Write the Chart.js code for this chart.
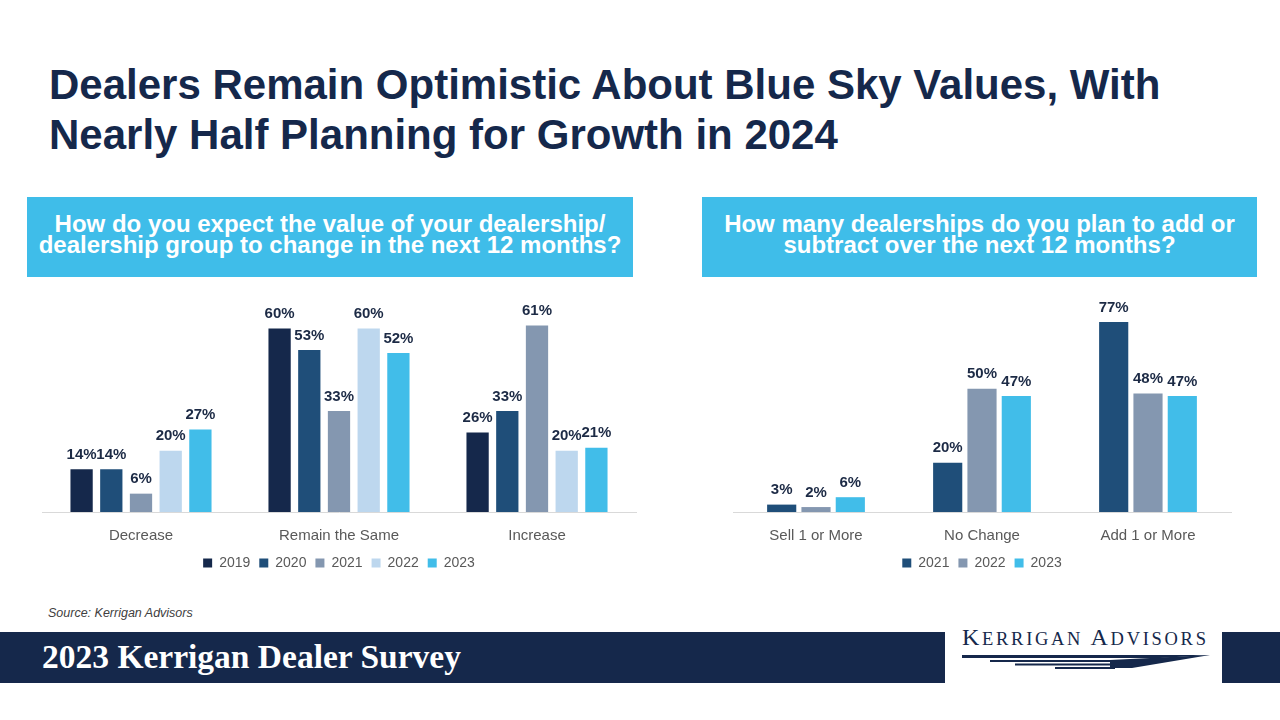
<!DOCTYPE html>
<html lang="en">
<head>
  <meta charset="UTF-8">
  <title>Dealers Remain Optimistic About Blue Sky Values</title>
  <style>
    * { box-sizing: border-box; margin: 0; padding: 0; }
    body {
      width: 1280px; height: 720px; position: relative; overflow: hidden;
      background: #fff; font-family: Arial, "Liberation Sans", sans-serif;
    }
    h1 {
      position: absolute; left: 49px; top: 60px;
      font-size: 42px; line-height: 50px; font-weight: bold; color: #15284b;
    }
    .qbox {
      position: absolute; top: 197px; height: 80px; background: #3fbde9;
      color: #fff; font-weight: bold; font-size: 24px; line-height: 21px;
      display: flex; align-items: center; justify-content: center; text-align: center;
      padding-bottom: 6px;
    }
    .chart { position: absolute; }
    .source {
      position: absolute; left: 48px; top: 606px; font-size: 12.5px;
      font-style: italic; color: #404040;
    }
    .band { position: absolute; top: 632px; height: 51px; background: #15284b; }
    .band-title {
      position: absolute; left: 42px; top: 638px; color: #fff;
      font-family: "Liberation Serif", "DejaVu Serif", serif; font-weight: bold; font-size: 33.5px;
    }
    .logo {
      position: absolute; left: 962px; top: 624px; color: #15284b;
      font-family: "Liberation Serif", serif; font-size: 24px; letter-spacing: 2.7px;
    }
    .logo small { font-size: 18.5px; }
  </style>
</head>
<body>
  <h1>Dealers Remain Optimistic About Blue Sky Values, With<br>Nearly Half Planning for Growth in 2024</h1>

  <div class="qbox" style="left:27px; width:606px;">How do you expect the value of your dealership/<br>dealership group to change in the next 12 months?</div>
  <div class="qbox" style="left:702px; width:555px;">How many dealerships do you plan to add or<br>subtract over the next 12 months?</div>

  <div class="chart" style="left:30px; top:280px; width:620px; height:300px;"><canvas id="valueChart"></canvas></div>
  <div class="chart" style="left:720px; top:272px; width:525px; height:308px;"><canvas id="storesChart"></canvas></div>

  <div class="source">Source: Kerrigan Advisors</div>

  <div class="band" style="left:0; width:945px;"></div>
  <div class="band" style="left:1222px; width:58px;"></div>
  <div class="band-title">2023 Kerrigan Dealer Survey</div>
  <div class="logo">K<small>ERRIGAN</small> A<small>DVISORS</small></div>
  <svg style="position:absolute; left:960px; top:653px;" width="252" height="20">
    <polygon points="2,2 250,2 200,5 2,5" fill="#15284b"/>
    <polygon points="150,7 250,2 172,15 150,15" fill="#15284b"/>
    <rect x="30" y="7" width="125" height="2" fill="#15284b"/>
    <rect x="55" y="10.5" width="100" height="2" fill="#15284b"/>
    <rect x="95" y="14" width="60" height="2" fill="#15284b"/>
  </svg>

  <script src="https://cdn.jsdelivr.net/npm/chart.js"></script>
  <script>
    // Left chart: expected change in dealership value
    const valueCategories = ['Decrease', 'Remain the Same', 'Increase'];
    const valueYears = ['2019', '2020', '2021', '2022', '2023'];
    const value2019 = [14, 60, 26];
    const value2020 = [14, 53, 33];
    const value2021 = [6, 33, 61];
    const value2022 = [20, 60, 20];
    const value2023 = [27, 52, 21];

    // Right chart: dealerships to add or subtract
    const storeCategories = ['Sell 1 or More', 'No Change', 'Add 1 or More'];
    const storeYears = ['2021', '2022', '2023'];
    const store2021 = [3, 20, 77];
    const store2022 = [2, 50, 48];
    const store2023 = [6, 47, 47];

    const yearColors = {
      '2019': '#15284b', '2020': '#1f4e79', '2021': '#8497b0',
      '2022': '#bdd7ee', '2023': '#41bde9'
    };
    const storeColors = ['#1f4e79', '#8497b0', '#41bde9'];

    // draws "NN%" above every bar
    const valueLabels = {
      id: 'valueLabels',
      afterDatasetsDraw(chart) {
        const ctx = chart.ctx;
        ctx.save();
        ctx.font = 'bold 15px Arial, "Liberation Sans"';
        ctx.fillStyle = '#1c2a45';
        ctx.textAlign = 'center';
        ctx.textBaseline = 'bottom';
        chart.data.datasets.forEach((ds, i) => {
          chart.getDatasetMeta(i).data.forEach((bar, j) => {
            ctx.fillText(ds.data[j] + '%', bar.x, bar.y - 7);
          });
        });
        ctx.restore();
      }
    };

    function barOptions(yMax, pad, catPct, barPct) {
      return {
        responsive: true,
        maintainAspectRatio: false,
        animation: false,
        layout: { padding: pad },
        datasets: { bar: { categoryPercentage: catPct, barPercentage: barPct } },
        scales: {
          x: {
            grid: { display: false },
            border: { color: '#d9d9d9', width: 1 },
            ticks: { color: '#595959', font: { size: 15, family: 'Arial, "Liberation Sans"' }, padding: 7 },
            afterFit(scale) { scale.height -= 5; }
          },
          y: { display: false, min: 0, max: yMax }
        },
        plugins: {
          legend: {
            position: 'bottom',
            labels: {
              boxWidth: 9, boxHeight: 9, padding: 9,
              color: '#595959', font: { size: 14, family: 'Arial, "Liberation Sans"' }
            }
          },
          tooltip: { enabled: false }
        }
      };
    }

    new Chart(document.getElementById('valueChart'), {
      type: 'bar',
      data: {
        labels: valueCategories,
        datasets: [value2019, value2020, value2021, value2022, value2023].map((d, i) => ({
          label: valueYears[i], data: d, backgroundColor: yearColors[valueYears[i]]
        }))
      },
      options: barOptions(70, { top: 18, left: 12, right: 14, bottom: 0 }, 0.75, 0.75),
      plugins: [valueLabels]
    });

    new Chart(document.getElementById('storesChart'), {
      type: 'bar',
      data: {
        labels: storeCategories,
        datasets: [store2021, store2022, store2023].map((d, i) => ({
          label: storeYears[i], data: d, backgroundColor: storeColors[i]
        }))
      },
      options: barOptions(90, { top: 18, left: 13, right: 14, bottom: 0 }, 0.62, 0.85),
      plugins: [valueLabels]
    });
  </script>
</body>
</html>
